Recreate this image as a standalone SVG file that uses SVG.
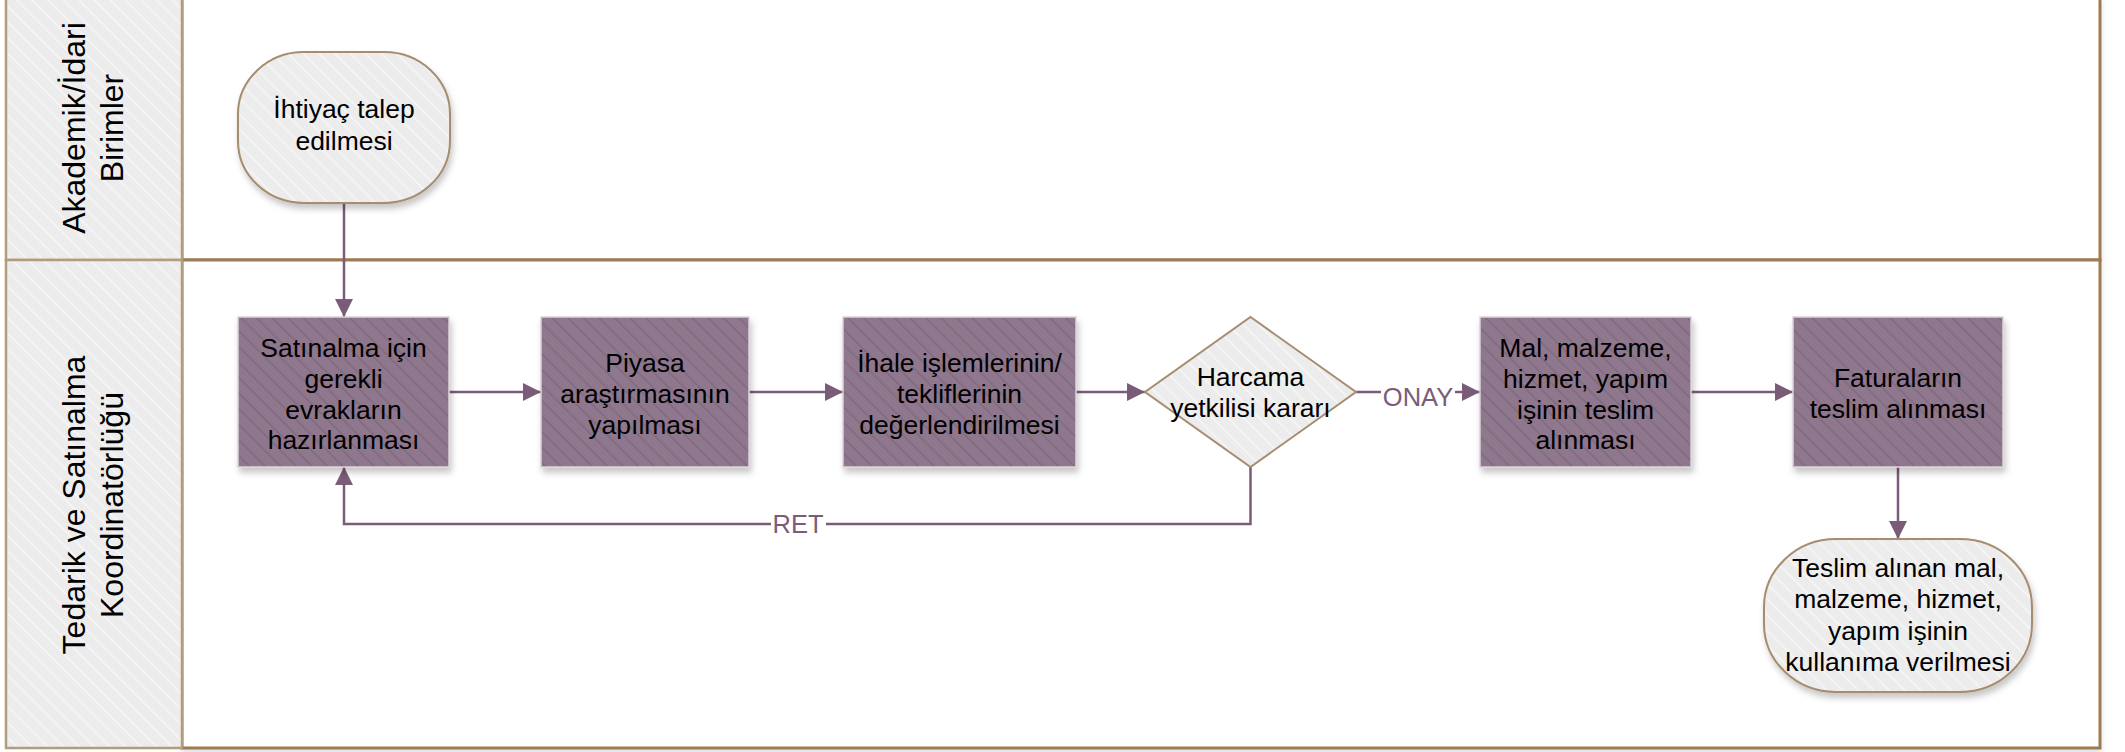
<svg xmlns="http://www.w3.org/2000/svg" width="2125" height="752" viewBox="0 0 2125 752">
  <defs>
    <pattern id="hatchProc" width="11" height="11" patternUnits="userSpaceOnUse" patternTransform="rotate(-45)">
      <rect width="11" height="11" fill="#8F778D"/>
      <line x1="0" y1="0" x2="0" y2="11" stroke="#806A7F" stroke-width="3"/>
    </pattern>
    <pattern id="hatchLight" width="11" height="11" patternUnits="userSpaceOnUse" patternTransform="rotate(-45)">
      <rect width="11" height="11" fill="#ECECEC"/>
      <line x1="0" y1="0" x2="0" y2="11" stroke="#F7F7F7" stroke-width="3"/>
    </pattern>
    <filter id="shadow" x="-10%" y="-10%" width="130%" height="140%">
      <feDropShadow dx="2" dy="5" stdDeviation="3" flood-color="#000" flood-opacity="0.22"/>
    </filter>
    <filter id="laneShadow" x="-2%" y="-5%" width="104%" height="115%">
      <feDropShadow dx="0" dy="4" stdDeviation="3" flood-color="#000" flood-opacity="0.12"/>
    </filter>
    <marker id="arrow" markerUnits="userSpaceOnUse" markerWidth="18" markerHeight="18" refX="18" refY="9" orient="auto">
      <path d="M0,0 L18,9 L0,18 z" fill="#7A5C79"/>
    </marker>
    <style>
      .lane { fill: #FFFFFF; stroke: #9C7A52; stroke-width: 3; }
      .head { fill: url(#hatchLight); stroke: #B39C7C; stroke-width: 2.5; }
      .headtxt { font-family: "Liberation Sans", Arial, sans-serif; font-size: 32px; fill: #000; text-anchor: middle; }
      .proc { fill: url(#hatchProc); stroke: #DCD2DB; stroke-width: 1.5; filter: url(#shadow); }
      .term { fill: url(#hatchLight); stroke: #A68D6E; stroke-width: 2; filter: url(#shadow); }
      .dec { fill: url(#hatchLight); stroke: #A68D6E; stroke-width: 2; }
      .txt { font-family: "Liberation Sans", Arial, sans-serif; font-size: 26.5px; fill: #000; text-anchor: middle; }
      .conn { fill: none; stroke: #7A5C79; stroke-width: 2.5; }
      .clabel { font-family: "Liberation Sans", Arial, sans-serif; font-size: 25.5px; fill: #7A5C79; text-anchor: middle; }
    </style>
  </defs>

  <g id="lanes" filter="url(#laneShadow)">
    <rect class="lane" x="182" y="-2" width="1918" height="262"/>
    <rect class="lane" x="182" y="260" width="1918" height="488"/>
  </g>
  <g id="lane-headers">
    <g id="lane1-header">
      <rect class="head" x="6" y="-2" width="176" height="262"/>
      <text class="headtxt" transform="translate(85,128) rotate(-90)"><tspan x="0" y="0">Akademik/İdari</tspan><tspan x="0" y="38">Birimler</tspan></text>
    </g>
    <g id="lane2-header">
      <rect class="head" x="6" y="260" width="176" height="488"/>
      <text class="headtxt" transform="translate(85,505) rotate(-90)"><tspan x="0" y="0">Tedarik ve Satınalma</tspan><tspan x="0" y="38">Koordinatörlüğü</tspan></text>
    </g>
  </g>

  <g id="connectors">
    <path class="conn" d="M344,203 V317" marker-end="url(#arrow)"/>
    <path class="conn" d="M449,392 H541" marker-end="url(#arrow)"/>
    <path class="conn" d="M749,392 H843" marker-end="url(#arrow)"/>
    <path class="conn" d="M1076,392 H1145" marker-end="url(#arrow)"/>
    <path class="conn" d="M1356,392 H1381"/>
    <path class="conn" d="M1455,392 H1480" marker-end="url(#arrow)"/>
    <text class="clabel" x="1418" y="406">ONAY</text>
    <path class="conn" d="M1691,392 H1793" marker-end="url(#arrow)"/>
    <path class="conn" d="M1898,467 V539" marker-end="url(#arrow)"/>
    <path class="conn" d="M1250.5,467 V524 H826"/>
    <path class="conn" d="M771,524 H344 V467" marker-end="url(#arrow)"/>
    <text class="clabel" x="798" y="533">RET</text>
  </g>

  <g id="node-start">
    <rect class="term" x="238" y="52" width="212" height="151" rx="66" ry="62"/>
    <text class="txt"><tspan x="344" y="118">İhtiyaç talep</tspan><tspan x="344" y="149.5">edilmesi</tspan></text>
  </g>
  <g id="node-evrak">
    <rect class="proc" x="238" y="317" width="211" height="150"/>
    <text class="txt"><tspan x="343.5" y="357">Satınalma için</tspan><tspan x="343.5" y="388">gerekli</tspan><tspan x="343.5" y="418.5">evrakların</tspan><tspan x="343.5" y="449">hazırlanması</tspan></text>
  </g>
  <g id="node-piyasa">
    <rect class="proc" x="541" y="317" width="208" height="150"/>
    <text class="txt"><tspan x="645" y="372">Piyasa</tspan><tspan x="645" y="403">araştırmasının</tspan><tspan x="645" y="434">yapılması</tspan></text>
  </g>
  <g id="node-ihale">
    <rect class="proc" x="843" y="317" width="233" height="150"/>
    <text class="txt"><tspan x="959.5" y="372">İhale işlemlerinin/</tspan><tspan x="959.5" y="403">tekliflerinin</tspan><tspan x="959.5" y="434">değerlendirilmesi</tspan></text>
  </g>
  <g id="node-karar">
    <polygon class="dec" points="1250.5,317 1356,392 1250.5,467 1145,392"/>
    <text class="txt"><tspan x="1250.5" y="386">Harcama</tspan><tspan x="1250.5" y="417">yetkilisi kararı</tspan></text>
  </g>
  <g id="node-teslim">
    <rect class="proc" x="1480" y="317" width="211" height="150"/>
    <text class="txt"><tspan x="1585.5" y="357">Mal, malzeme,</tspan><tspan x="1585.5" y="388">hizmet, yapım</tspan><tspan x="1585.5" y="418.5">işinin teslim</tspan><tspan x="1585.5" y="449">alınması</tspan></text>
  </g>
  <g id="node-fatura">
    <rect class="proc" x="1793" y="317" width="210" height="150"/>
    <text class="txt"><tspan x="1898" y="387">Faturaların</tspan><tspan x="1898" y="418">teslim alınması</tspan></text>
  </g>
  <g id="node-end">
    <rect class="term" x="1764" y="539" width="268" height="153" rx="72" ry="68"/>
    <text class="txt"><tspan x="1898" y="577">Teslim alınan mal,</tspan><tspan x="1898" y="608">malzeme, hizmet,</tspan><tspan x="1898" y="639.5">yapım işinin</tspan><tspan x="1898" y="671">kullanıma verilmesi</tspan></text>
  </g>
</svg>
